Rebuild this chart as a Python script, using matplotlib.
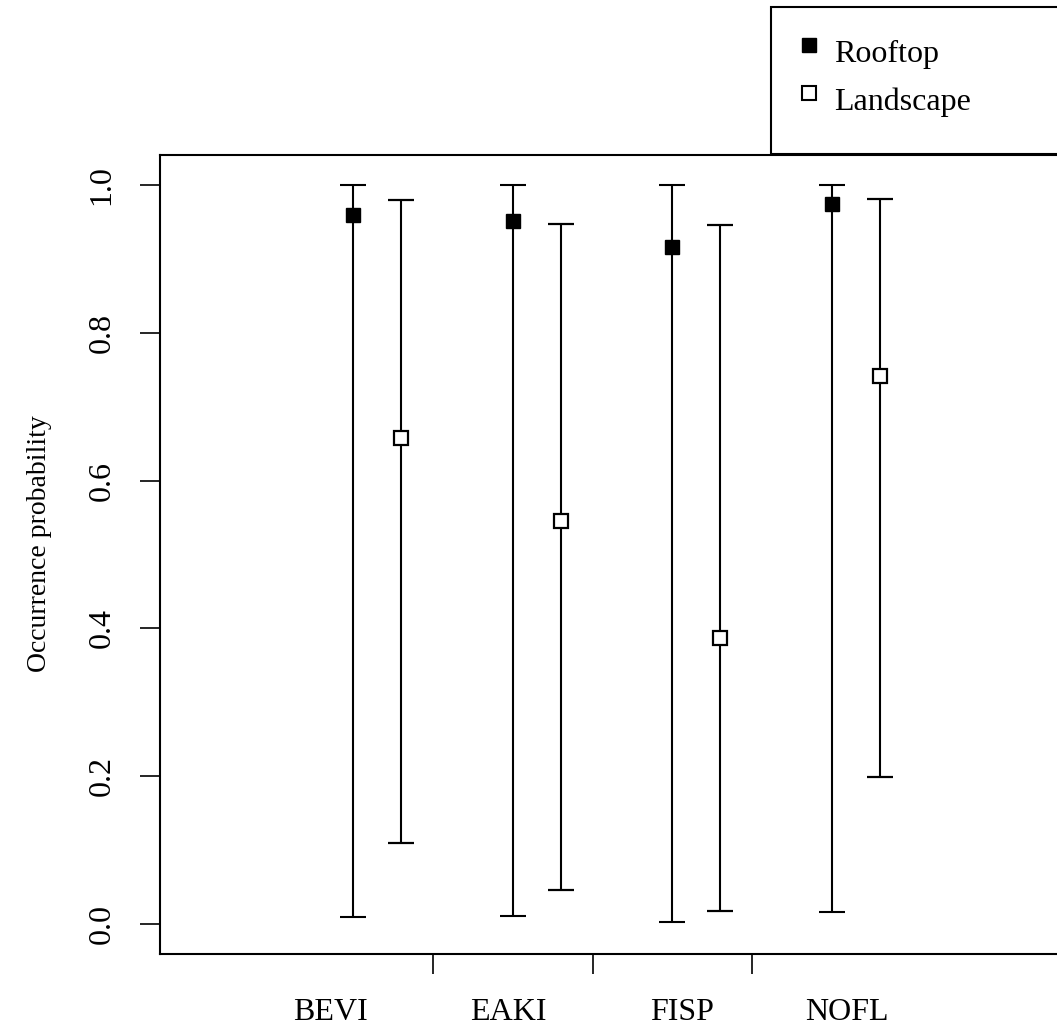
import numpy as np
import matplotlib
matplotlib.use("Agg")
from matplotlib import pyplot as plt
from matplotlib.patches import Rectangle
from matplotlib.lines import Line2D
from matplotlib.transforms import blended_transform_factory

plt.rcParams['font.family'] = ['Liberation Serif', 'DejaVu Serif']

species = ["BEVI", "EAKI", "FISP", "NOFL"]
rooftop_mean = [0.959, 0.951, 0.916, 0.974]
rooftop_low = [0.010, 0.012, 0.003, 0.017]
rooftop_high = [1.0, 1.0, 1.0, 1.0]
landscape_mean = [0.657, 0.545, 0.387, 0.741]
landscape_low = [0.110, 0.047, 0.018, 0.199]
landscape_high = [0.979, 0.947, 0.945, 0.981]
label_pos = [0.86, 1.97, 3.06, 4.09]
tick_pos = [1.5, 2.5, 3.5]
yticks = [0.0, 0.2, 0.4, 0.6, 0.8, 1.0]

W, H = 1057, 1029
fig = plt.figure(figsize=(W / 100, H / 100), dpi=100)
ax = fig.add_axes([160 / W, 75 / H, 920 / W, 799 / H])

x_roof = np.arange(1, 5)
x_land = x_roof + 0.3

rm = np.array(rooftop_mean)
lm = np.array(landscape_mean)
ax.errorbar(x_roof, rm, yerr=[rm - np.array(rooftop_low), np.array(rooftop_high) - rm],
            fmt='s', color='black', ms=10.5, mfc='black', mec='black',
            elinewidth=1.5, capsize=9.6, capthick=1.5)
ax.errorbar(x_land, lm, yerr=[lm - np.array(landscape_low), np.array(landscape_high) - lm],
            fmt='s', color='black', ms=10.5, mfc='white', mec='black', mew=1.6,
            elinewidth=1.5, capsize=9.6, capthick=1.5)

ax.set_xlim(-0.2085, 5.552)
ax.set_ylim(-0.04, 1.04)
for s in ax.spines.values():
    s.set_linewidth(1.5)

ax.set_yticks(yticks)
ax.set_yticklabels(["%.1f" % v for v in yticks], rotation=90, va='center', fontsize=23)
ax.tick_params(axis='y', length=14.4, width=1.2, pad=17)
ax.set_xticks(tick_pos)
ax.set_xticklabels([])
ax.tick_params(axis='x', length=14.4, width=1.2)

tr = blended_transform_factory(ax.transData, fig.transFigure)
for p, name in zip(label_pos, species):
    ax.text(p, (H - 1013) / H, name, transform=tr, ha='center', va='center',
            fontsize=23, clip_on=False)

fig.text(40 / W, (H - 544) / H, "Occurrence probability", rotation=90,
         ha='center', va='center', fontsize=20)

# legend box at top right
fig.patches.append(Rectangle((771 / W, (H - 154) / H), 400 / W, 147 / H,
                             transform=fig.transFigure, fill=False,
                             edgecolor='black', linewidth=1.5))
fig.lines.append(Line2D([809 / W], [(H - 45) / H], transform=fig.transFigure,
                        marker='s', ms=10, mfc='black', mec='black', ls='none'))
fig.lines.append(Line2D([809 / W], [(H - 93) / H], transform=fig.transFigure,
                        marker='s', ms=10, mfc='white', mec='black', mew=1.5, ls='none'))
fig.text(834 / W, (H - 62) / H, "Rooftop", fontsize=23, va='baseline')
fig.text(834 / W, (H - 110) / H, "Landscape", fontsize=23, va='baseline')

fig.savefig("out.png", dpi=100)
